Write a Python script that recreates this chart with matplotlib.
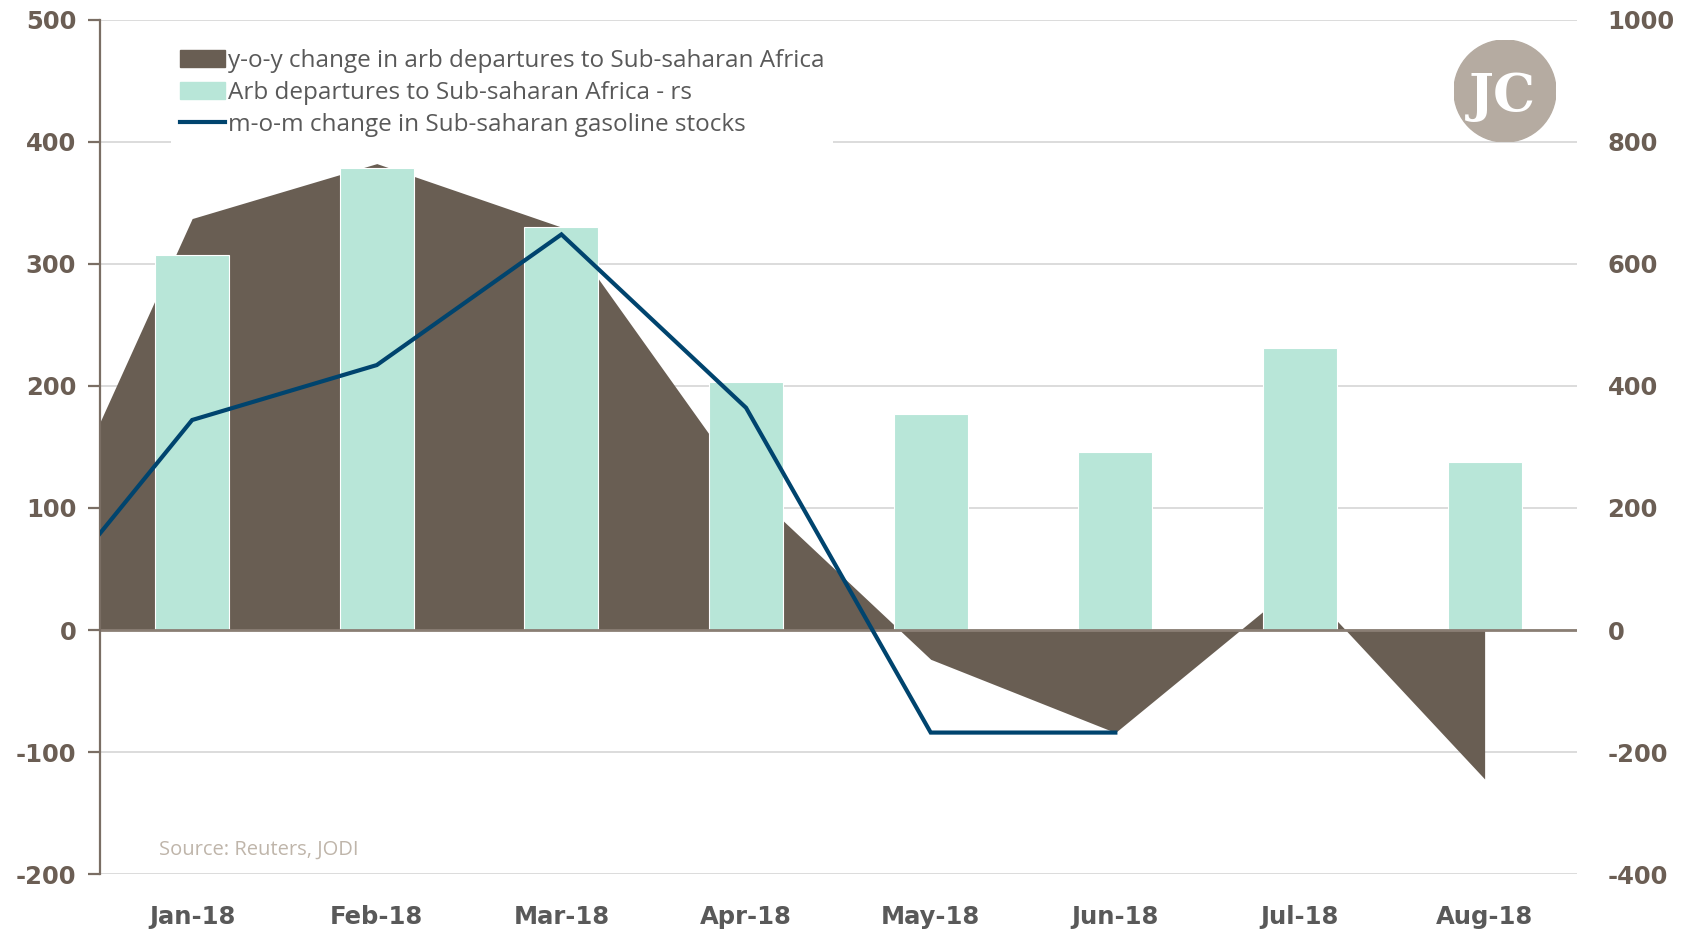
import numpy as np
import matplotlib
matplotlib.use("Agg")
import matplotlib.pyplot as plt
from matplotlib.patches import Patch, Circle
from matplotlib.lines import Line2D

# months, with Dec-17 only used so the area and line run in from the left edge
months = ['Jan-18', 'Feb-18', 'Mar-18', 'Apr-18', 'May-18', 'Jun-18', 'Jul-18', 'Aug-18']
area_months = ['Dec-17'] + months
yoy_change = [3, 337, 382, 330, 118, -24, -84, 40, -122]        # left axis
departures = [615, 757, 660, 407, 354, 292, 462, 276]            # right axis
line_months = ['Dec-17', 'Jan-18', 'Feb-18', 'Mar-18', 'Apr-18', 'May-18', 'Jun-18']
stock_change = [-14, 172, 217, 324, 182, -84, -84]               # left axis

brown = '#695E53'
mint = '#B8E6D8'
navy = '#00446E'
tick_col = '#6B5E54'
grid_col = '#D9D9D9'

plt.rcParams['font.family'] = ['Open Sans', 'DejaVu Sans']
plt.rcParams['axes.unicode_minus'] = False

fig = plt.figure(figsize=(16.92, 9.30), dpi=100)
ax = fig.add_axes([0.059, 0.060, 0.873, 0.919])
ax2 = ax.twinx()
ax.set_zorder(ax2.get_zorder() + 1)
ax.patch.set_visible(False)

pos = {m: i for i, m in enumerate(months)}
pos['Dec-17'] = -1
xa = [pos[m] for m in area_months]
xl = [pos[m] for m in line_months]
xb = np.arange(len(months))

# bottom layer (ax2): grid, area (in left-axis units), bars
ax2.fill_between(xa, yoy_change, 0, color=brown, lw=0, zorder=1,
                 transform=ax.transData)
bars = ax2.bar(xb, departures, width=0.40, color=mint, edgecolor='white',
               linewidth=0.8, zorder=2)
ax2.axhline(0, color='#8A7E74', lw=2, zorder=3)

# top layer (ax): the line
ax.plot(xl, stock_change, color=navy, lw=3.0, zorder=4, solid_joinstyle='miter')

ax.set_xlim(-0.5, 7.5)
ax.set_ylim(-200, 500)
ax2.set_ylim(-400, 1000)
ax.set_yticks(np.arange(-200, 501, 100))
ax2.set_yticks(np.arange(-400, 1001, 200))
ax.set_xticks(xb)
ax.set_xticklabels(months)
ax.set_xticks(np.arange(0.5, 7.6, 1), minor=True)

ax2.grid(axis='y', color=grid_col, lw=1.3, zorder=0)
ax2.grid(axis='x', which='minor', color=grid_col, lw=1.3, zorder=0)
ax2.set_axisbelow(True)

for a in (ax, ax2):
    for s in ('top', 'right', 'bottom'):
        a.spines[s].set_visible(False)
ax2.spines['left'].set_visible(False)
ax.spines['left'].set_color('#7A6E64')
ax.spines['left'].set_linewidth(1.6)

ax.tick_params(axis='y', direction='out', length=9, width=1.6, color='#7A6E64',
               labelsize=17.5, labelcolor=tick_col, pad=8)
ax2.tick_params(axis='y', length=0, labelsize=17.5, labelcolor=tick_col, pad=22)
ax.tick_params(axis='x', which='both', length=0, labelsize=17.5, labelcolor='#595959', pad=22)
for t in ax.get_yticklabels() + ax2.get_yticklabels() + ax.get_xticklabels():
    t.set_fontweight('bold')
    t.set_family('DejaVu Sans')

handles = [Patch(color=brown), Patch(color=mint), Line2D([], [], color=navy, lw=3.0)]
labels = ['y-o-y change in arb departures to Sub-saharan Africa',
          'Arb departures to Sub-saharan Africa - rs',
          'm-o-m change in Sub-saharan gasoline stocks']
leg = ax.legend(handles, labels, loc='upper left', bbox_to_anchor=(0.040, 0.990),
                fontsize=17.5, frameon=True, facecolor='white', edgecolor='none',
                framealpha=1, handlelength=1.85, handleheight=0.72, handletextpad=0.15,
                labelspacing=0.33, borderpad=0.35, fancybox=False)
for t in leg.get_texts():
    t.set_color('#595959')

ax.text(0.040, 0.023, 'Source: Reuters, JODI', transform=ax.transAxes,
        fontsize=14.5, color='#BFB5AA')

# logo
lax = fig.add_axes([0.8593, 0.8473, 0.0603, 0.1097])
lax.set_xlim(0, 1)
lax.set_ylim(0, 1)
lax.axis('off')
lax.add_patch(Circle((0.5, 0.5), 0.5, color='#B5ABA1'))
lax.text(0.47, 0.45, 'JC', ha='center', va='center', color='white',
         fontsize=38, fontweight='bold', family='DejaVu Serif')

fig.savefig('out.png', dpi=100)
